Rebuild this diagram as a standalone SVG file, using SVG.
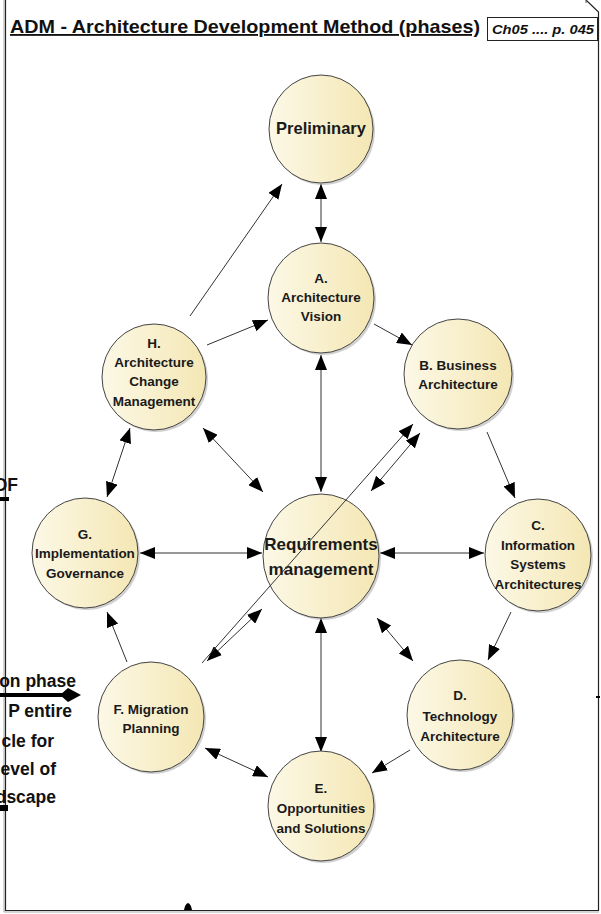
<svg xmlns="http://www.w3.org/2000/svg" width="601" height="914" viewBox="0 0 601 914">
<style>
.node{fill:url(#g);stroke:#444;stroke-width:1}
.sh{fill:#999;opacity:0.45}
.lbl{font-family:"Liberation Sans",Arial,sans-serif;font-weight:bold;font-size:13.5px;fill:#1a1a1a;text-anchor:middle}
.big{font-size:16.5px}
.req{font-size:17px}
.c{stroke:#333;stroke-width:1;fill:none}
.e{marker-end:url(#a)}
.b{marker-start:url(#a);marker-end:url(#a)}
.side{font-family:"Liberation Sans",Arial,sans-serif;font-weight:bold;font-size:17.5px;fill:#111;text-anchor:end}
</style>
<defs>
<linearGradient id="g" x1="0" y1="0" x2="1" y2="0">
<stop offset="0" stop-color="#fcf8e6"/>
<stop offset="1" stop-color="#f4e7b4"/>
</linearGradient>
<marker id="a" markerUnits="userSpaceOnUse" markerWidth="16" markerHeight="12" refX="15" refY="6" orient="auto-start-reverse">
<path d="M0,0 L15,6 L0,12 z" fill="#000"/>
</marker>
</defs>
<rect width="601" height="914" fill="#fff"/>
<g id="frame">
<path d="M4,0 V912 H599" fill="none" stroke="#aaa" stroke-width="1"/>
<path d="M5.5,0 V910.5 H598.5 V12 L586,0" fill="none" stroke="#222" stroke-width="1.2"/>
<path d="M586,0 V3" fill="none" stroke="#555" stroke-width="1"/>
<text x="10" y="33" font-family="'Liberation Sans',Arial,sans-serif" font-weight="bold" font-size="18.5" fill="#111" text-decoration="underline" textLength="470" lengthAdjust="spacingAndGlyphs">ADM - Architecture Development Method (phases)</text>
<rect x="487.5" y="17.5" width="110" height="23" fill="#fff" stroke="#222" stroke-width="1"/>
<text x="492" y="34" font-family="'Liberation Sans',Arial,sans-serif" font-weight="bold" font-style="italic" font-size="12" fill="#111" textLength="102" lengthAdjust="spacingAndGlyphs">Ch05 .... p. 045</text>
</g>
<g id="outside">
<text class="side" x="18" y="491">OF</text>
<rect x="0" y="497" width="9" height="4" fill="#000"/>
<text class="side" x="76" y="687">on phase</text>
<text class="side" x="72" y="717">P entire</text>
<text class="side" x="54" y="747">cle for</text>
<text class="side" x="56" y="775">evel of</text>
<text class="side" x="56" y="803">dscape</text>
<rect x="0" y="693" width="64" height="4" fill="#000"/>
<path d="M60,695 L68,688 L81,695 L68,702 z" fill="#000"/>
<path d="M0,805 H8 V811 H0 z" fill="#000"/>
<path d="M184,910 Q185,904 188,903 Q191,904 192,910 z" fill="#000"/>
<rect x="596" y="696" width="4" height="2" fill="#000"/>
</g>
<g id="connectors">
<line class="c b" x1="321" y1="184" x2="321" y2="242"/>
<line class="c e" x1="190" y1="316" x2="282" y2="184"/>
<line class="c e" x1="207" y1="345" x2="268" y2="320"/>
<line class="c e" x1="374" y1="324" x2="412" y2="345"/>
<line class="c e" x1="487" y1="432" x2="515" y2="498"/>
<line class="c e" x1="511" y1="612" x2="488" y2="660"/>
<line class="c e" x1="410" y1="750" x2="372" y2="773"/>
<line class="c b" x1="205" y1="748" x2="268" y2="777"/>
<line class="c e" x1="127" y1="662" x2="107" y2="612"/>
<line class="c b" x1="107" y1="497" x2="130" y2="428"/>
<line class="c b" x1="321" y1="355" x2="321" y2="492"/>
<line class="c b" x1="321" y1="618" x2="321" y2="752"/>
<line class="c b" x1="140" y1="553" x2="262" y2="553"/>
<line class="c b" x1="380" y1="553" x2="484" y2="553"/>
<line class="c b" x1="203" y1="428" x2="263" y2="492"/>
<line class="c b" x1="377" y1="618" x2="413" y2="661"/>
<line class="c b" x1="207" y1="661" x2="262" y2="609"/>
<line class="c b" x1="371" y1="491" x2="420" y2="433"/>
</g>
<g id="preliminary">
<ellipse class="sh" cx="323" cy="131" rx="52" ry="54"/>
<ellipse class="node" cx="321" cy="129" rx="52" ry="54"/>
<text class="lbl big" x="321" y="134">Preliminary</text>
</g>
<g id="phaseA">
<ellipse class="sh" cx="323" cy="300" rx="53" ry="55"/>
<ellipse class="node" cx="321" cy="298" rx="53" ry="55"/>
<text class="lbl" x="321" y="283">A.</text>
<text class="lbl" x="321" y="302">Architecture</text>
<text class="lbl" x="321" y="321">Vision</text>
</g>
<g id="phaseB">
<ellipse class="sh" cx="460" cy="376" rx="54" ry="55"/>
<ellipse class="node" cx="458" cy="374" rx="54" ry="55"/>
<text class="lbl" x="458" y="370">B. Business</text>
<text class="lbl" x="458" y="389">Architecture</text>
</g>
<g id="phaseC">
<ellipse class="sh" cx="540" cy="557" rx="53" ry="56"/>
<ellipse class="node" cx="538" cy="555" rx="53" ry="56"/>
<text class="lbl" x="538" y="530">C.</text>
<text class="lbl" x="538" y="550">Information</text>
<text class="lbl" x="538" y="569">Systems</text>
<text class="lbl" x="538" y="589">Architectures</text>
</g>
<g id="phaseD">
<ellipse class="sh" cx="462" cy="717" rx="53" ry="55"/>
<ellipse class="node" cx="460" cy="715" rx="53" ry="55"/>
<text class="lbl" x="460" y="700">D.</text>
<text class="lbl" x="460" y="721">Technology</text>
<text class="lbl" x="460" y="741">Architecture</text>
</g>
<g id="phaseE">
<ellipse class="sh" cx="323" cy="808" rx="53" ry="55"/>
<ellipse class="node" cx="321" cy="806" rx="53" ry="55"/>
<text class="lbl" x="321" y="793">E.</text>
<text class="lbl" x="321" y="813">Opportunities</text>
<text class="lbl" x="321" y="833">and Solutions</text>
</g>
<g id="phaseF">
<ellipse class="sh" cx="153" cy="719" rx="53" ry="55"/>
<ellipse class="node" cx="151" cy="717" rx="53" ry="55"/>
<text class="lbl" x="151" y="714">F. Migration</text>
<text class="lbl" x="151" y="733">Planning</text>
</g>
<g id="phaseG">
<ellipse class="sh" cx="87" cy="555" rx="53" ry="55"/>
<ellipse class="node" cx="85" cy="553" rx="53" ry="55"/>
<text class="lbl" x="85" y="539">G.</text>
<text class="lbl" x="85" y="558">Implementation</text>
<text class="lbl" x="85" y="578">Governance</text>
</g>
<g id="phaseH">
<ellipse class="sh" cx="156" cy="379" rx="52" ry="53"/>
<ellipse class="node" cx="154" cy="377" rx="52" ry="53"/>
<text class="lbl" x="154" y="348">H.</text>
<text class="lbl" x="154" y="367">Architecture</text>
<text class="lbl" x="154" y="386">Change</text>
<text class="lbl" x="154" y="406">Management</text>
</g>
<g id="requirements">
<ellipse class="sh" cx="323" cy="558" rx="58" ry="62"/>
<ellipse class="node" cx="321" cy="556" rx="58" ry="62"/>
<text class="lbl req" x="321" y="550">Requirements</text>
<text class="lbl req" x="321" y="575">management</text>
</g>
<g id="connector-overlay">
<line class="c e" x1="202" y1="663" x2="413" y2="424"/>
</g>
</svg>
